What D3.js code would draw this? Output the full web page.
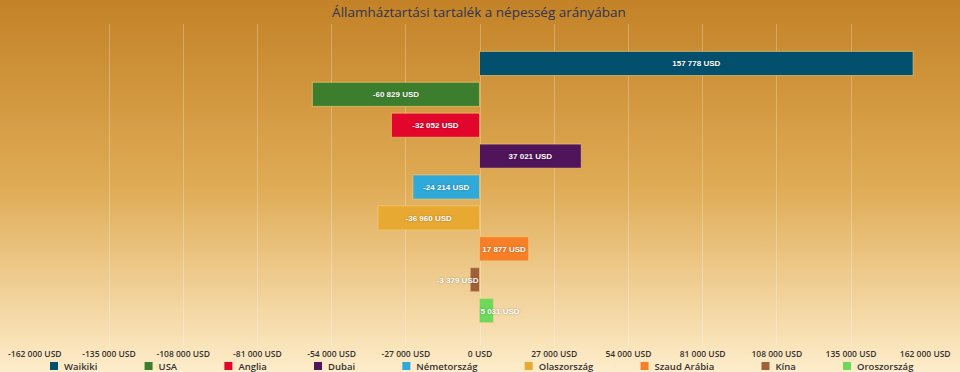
<!DOCTYPE html>
<html lang="hu">
<head>
    <meta charset="UTF-8">
    <script src="https://d3js.org/d3.v7.min.js"></script>
    <title>Államháztartási tartalék</title>
    <style>
        body { margin: 0; }
        svg { display: block; }
    </style>
</head>
<body>
    <script>
        // data
        const categories = ["Waikiki", "USA", "Anglia", "Dubai", "Németország", "Olaszország", "Szaud Arábia", "Kína", "Oroszország"];
        const values = [157778, -60829, -32052, 37021, -24214, -36960, 17877, -3379, 5031];
        const colors = ["#02506d", "#3d7e2e", "#e2062c", "#4f145a", "#2fa8da", "#e8a933", "#f77f27", "#9f603d", "#6bd95b"];
        const tickValues = [-162000, -135000, -108000, -81000, -54000, -27000, 0, 27000, 54000, 81000, 108000, 135000, 162000];

        const w = 960;
        const h = 372;

        const huLocale = d3.formatLocale({decimal: ",", thousands: " ", grouping: [3], currency: ["", " USD"], minus: "-"});
        const fmt = d => huLocale.format(",")(d) + " USD";

        const svg = d3.select("body").append("svg")
            .attr("width", w)
            .attr("height", h);

        // background gradient
        const grad = svg.append("defs").append("linearGradient")
            .attr("id", "bg")
            .attr("x1", 0).attr("y1", 0).attr("x2", 0).attr("y2", 1);
        grad.append("stop").attr("offset", "0%").attr("stop-color", "#c38227");
        grad.append("stop").attr("offset", "50%").attr("stop-color", "#dfab55");
        grad.append("stop").attr("offset", "100%").attr("stop-color", "#feedcb");
        svg.append("rect").attr("width", w).attr("height", h).attr("fill", "url(#bg)");

        // scales
        const xScale = d3.scaleLinear()
            .domain([-162000, 162000])
            .range([34.3, 924.7]);

        const yScale = d3.scaleBand()
            .domain(categories)
            .range([48, 326])
            .paddingInner(0.22)
            .paddingOuter(0.11);

        // title
        svg.append("text")
            .attr("x", 479)
            .attr("y", 17)
            .attr("text-anchor", "middle")
            .attr("font-family", "'Open Sans', sans-serif")
            .attr("font-size", 13.5)
            .attr("font-weight", 500)
            .attr("fill", "#2f3450")
            .text("Államháztartási tartalék a népesség arányában");

        // grid lines
        svg.append("g")
            .selectAll("line")
            .data(tickValues.slice(1, -1))
            .join("line")
            .attr("x1", d => Math.round(xScale(d)) + 0.5)
            .attr("x2", d => Math.round(xScale(d)) + 0.5)
            .attr("y1", 24)
            .attr("y2", 346)
            .attr("stroke", "#fff")
            .attr("stroke-opacity", 0.25);

        // x axis
        const xAxis = d3.axisBottom(xScale)
            .tickValues(tickValues)
            .tickSize(0)
            .tickFormat(fmt);

        const gx = svg.append("g")
            .attr("transform", "translate(0, 350)")
            .call(xAxis);
        gx.select(".domain").remove();
        gx.selectAll("text")
            .attr("y", 7)
            .attr("dy", 0)
            .attr("font-family", "'Open Sans', sans-serif")
            .attr("font-weight", 600)
            .attr("font-size", 8.5)
            .attr("fill", "#333");

        // bars
        svg.append("g")
            .selectAll("rect")
            .data(categories)
            .join("rect")
            .attr("x", (d, i) => xScale(Math.min(0, values[i])))
            .attr("y", d => yScale(d))
            .attr("width", (d, i) => Math.abs(xScale(values[i]) - xScale(0)))
            .attr("height", yScale.bandwidth())
            .attr("fill", (d, i) => colors[i])
            .attr("stroke", "#f6cf7a")
            .attr("stroke-opacity", 0.6)
            .attr("stroke-width", 1);

        // value labels, kept on the bar's own side of zero
        const labels = svg.append("g")
            .selectAll("text")
            .data(categories)
            .join("text")
            .attr("y", d => yScale(d) + yScale.bandwidth() / 2 + 3)
            .attr("font-family", "'Liberation Sans', Arial, sans-serif")
            .attr("font-weight", "bold")
            .attr("font-size", 8)
            .attr("fill", "#fff")
            .style("text-shadow", "0 0 2px rgba(0,0,0,0.35)")
            .text((d, i) => fmt(values[i]));

        labels.each(function(d, i) {
            const tw = this.getComputedTextLength();
            const v = values[i];
            const x0 = xScale(0);
            let cx = (xScale(v) + x0) / 2;
            let left = cx - tw / 2;
            if (v >= 0 && left < x0 + 1) left = x0 + 1;
            if (v < 0 && left + tw > x0 - 1) left = x0 - 1 - tw;
            d3.select(this).attr("x", left);
        });

        // legend
        const legend = svg.append("g").attr("transform", "translate(0, 370)");
        const items = categories.map((c, i) => {
            const item = legend.append("g");
            item.append("rect")
                .attr("x", 0)
                .attr("y", -8)
                .attr("width", 8)
                .attr("height", 8)
                .attr("fill", colors[i]);
            const t = item.append("text")
                .attr("x", 14)
                .attr("y", 0)
                .attr("font-family", "'Open Sans', sans-serif")
                .attr("font-weight", 600)
                .attr("font-size", 9.5)
                .attr("fill", "#333")
                .text(c);
            return {item: item, tw: t.node().getComputedTextLength()};
        });
        // spread items so the first starts at 50 and the last at 843
        const used = d3.sum(items.slice(0, -1), d => 14 + d.tw);
        const gap = (843 - 50 - used) / (items.length - 1);
        let lx = 50;
        items.forEach(d => {
            d.item.attr("transform", "translate(" + lx + ", 0)");
            lx += 14 + d.tw + gap;
        });
    </script>
</body>
</html>
